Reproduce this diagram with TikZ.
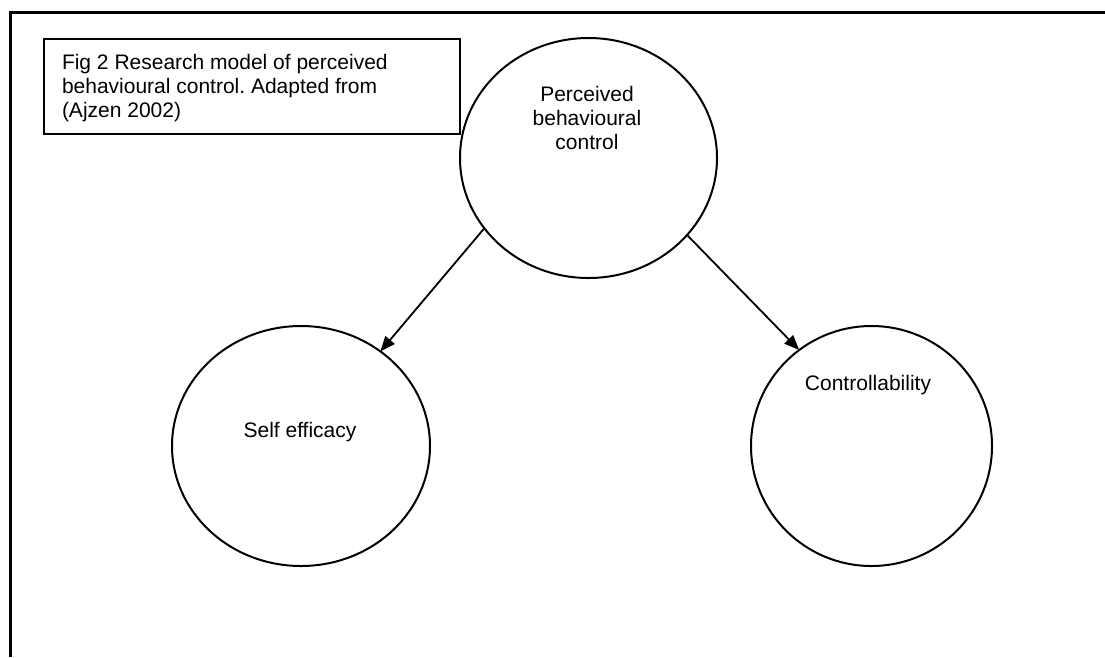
\documentclass[tikz,border=0pt]{standalone}
\usepackage{fontspec}
\setmainfont{Liberation Sans}
\usetikzlibrary{shapes.geometric,arrows.meta}
\frenchspacing
\tikzset{
  txt/.style={font=\fontsize{21}{24}\selectfont, inner sep=0pt, outer sep=0pt},
  oval/.style={draw, ellipse, line width=2pt, inner sep=0pt, outer sep=0pt},
  capbox/.style={draw, rectangle, line width=2pt, inner sep=0pt, outer sep=0pt},
  frameline/.style={line width=3pt, line join=miter},
  conn/.style={line width=1.8pt, -{Triangle[length=15pt,width=12pt]}}
}
\begin{document}
\begin{tikzpicture}[x=1pt,y=-1pt]
\useasboundingbox (0,0) rectangle (1105,657);
% outer frame
\coordinate (fa) at (10,657);
\coordinate (fb) at (10,12);
\coordinate (fc) at (1105,12);
\draw[frameline] (fa) -- (fb) -- (fc);
% caption box
\node[capbox, minimum width=416pt, minimum height=95pt] (cap) at (251.9,86.2) {};
\node[txt, anchor=north west, align=left] (captext) at (62,54)
  {Fig 2 Research model of perceived\\behavioural control. Adapted from\\(Ajzen 2002)};
% ellipses
\node[oval, minimum width=257pt, minimum height=240pt] (pbc) at (588.5,158) {};
\node[oval, minimum width=258pt, minimum height=240pt] (se) at (301,446) {};
\node[oval, minimum width=241pt, minimum height=240pt] (ct) at (871.5,446) {};
% labels
\node[txt, anchor=north, align=center] (pbct) at (587,86.5) {Perceived\\behavioural\\control};
\node[txt, anchor=base] (set) at (300,437) {Self efficacy};
\node[txt, anchor=base] (ctt) at (868,390) {Controllability};
% connectors
\draw[conn] (pbc.214.4) -- (se.50.5);
\draw[conn] (pbc.322.5) -- (ct.127.6);
\end{tikzpicture}
\end{document}
